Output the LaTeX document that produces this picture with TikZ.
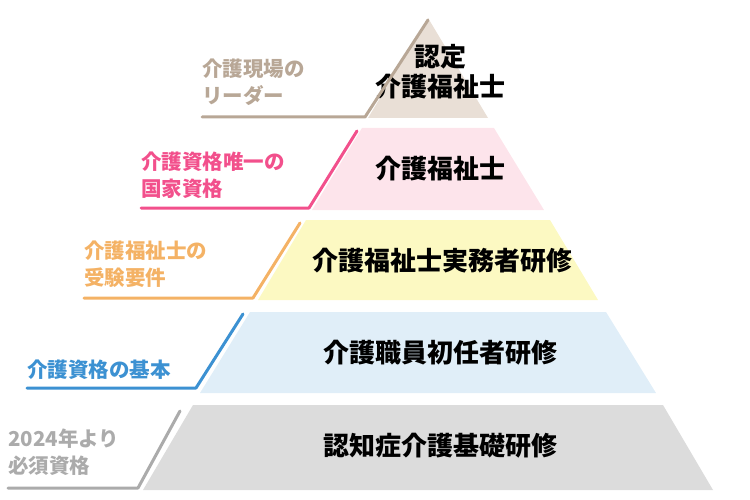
\documentclass[tikz,border=0pt]{standalone}
\usepackage{fontspec}
\setmainfont{Noto Sans CJK JP}
\usetikzlibrary{positioning}
\definecolor{tanline}{HTML}{B8A796}
\definecolor{tanfill}{HTML}{E9DFD6}
\definecolor{pinkline}{HTML}{F2508C}
\definecolor{pinkfill}{HTML}{FDE4EB}
\definecolor{orgline}{HTML}{F4B265}
\definecolor{yelfill}{HTML}{FCF9C2}
\definecolor{blueline}{HTML}{3C91D2}
\definecolor{bluefill}{HTML}{E0EEF8}
\definecolor{greyline}{HTML}{ABABAB}
\definecolor{greyfill}{HTML}{DCDCDC}
\begin{document}
\begin{tikzpicture}[x=1pt,y=-1pt,
    tier/.style={font=\bfseries\fontsize{26}{30}\selectfont,align=center,text=black},
    lbl/.style={font=\bfseries\fontsize{20.5}{27}\selectfont,align=left,anchor=west,inner sep=0pt},
    lead/.style={line width=3pt,line cap=round,line join=round}]
  \useasboundingbox (0,0) rectangle (750,500);
  % tiers of the pyramid
  \fill[tanfill] (428,18) -- (488,118) -- (368,118) -- cycle;
  \fill[pinkfill] (362,128) -- (494,128) -- (544,210) -- (312,210) -- cycle;
  \fill[yelfill] (306,220) -- (550,220) -- (598,300) -- (258,300) -- cycle;
  \fill[bluefill] (250,312) -- (606,312) -- (656,393) -- (200,393) -- cycle;
  \fill[greyfill] (193,405) -- (663,405) -- (713,490) -- (143,490) -- cycle;
  \node[tier] (t1) at (440,72) {認定\\介護福祉士};
  \node[tier] (t2) at (440,169) {介護福祉士};
  \node[tier] (t3) at (442,261) {介護福祉士実務者研修};
  \node[tier] (t4) at (440,353) {介護職員初任者研修};
  \node[tier] (t5) at (440,446) {認知症介護基礎研修};
  % side labels
  \node[lbl,text=tanline] (l1) at (202,82) {介護現場の\\リーダー};
  \node[lbl,text=pinkline] (l2) at (141,175) {介護資格唯一の\\国家資格};
  \node[lbl,text=orgline] (l3) at (84,264) {介護福祉士の\\受験要件};
  \node[lbl,text=blueline] (l4) at (27,370) {介護資格の基本};
  \node[lbl,text=greyline] (l5) at (8,452) {2024年より\\必須資格};
  % leader lines
  \draw[lead,tanline] (l1.west |- 0,117) coordinate (a1) -- (365,117) -- (428,20);
  \draw[lead,pinkline] (l2.west |- 0,208) coordinate (a2) -- (309,208) -- (357,131);
  \draw[lead,orgline] (l3.west |- 0,298) coordinate (a3) -- (253,298) -- (300,223);
  \draw[lead,blueline] (l4.west |- 0,388) coordinate (a4) -- (196,388) -- (243,314);
  \draw[lead,greyline] (l5.west |- 0,488) coordinate (a5) -- (138,488) -- (180,411);
\end{tikzpicture}
\end{document}
